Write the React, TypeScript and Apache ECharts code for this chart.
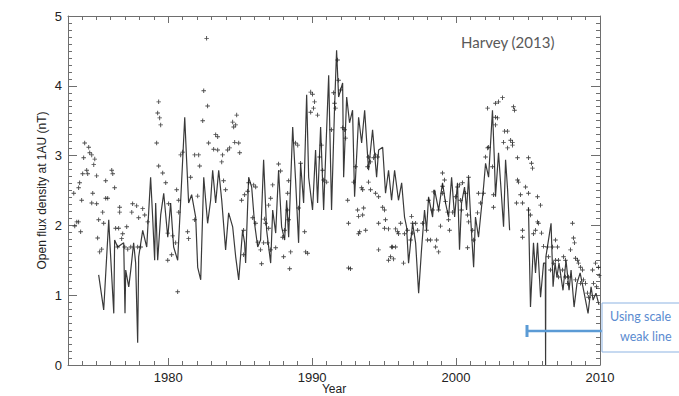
import React, { useEffect, useRef } from "react";
import * as echarts from "echarts";

const lineYears = [
  1975.17, 1975.52, 1975.87, 1975.94, 1976.22, 1976.28, 1976.49, 1976.91, 1977.0, 1977.05,
  1977.26, 1977.4, 1977.6, 1977.74, 1977.88, 1977.95, 1978.23, 1978.51, 1978.78, 1978.92,
  1979.06, 1979.13, 1979.27, 1979.48, 1979.69, 1979.97, 1980.17, 1980.38, 1980.66, 1980.87,
  1981.15, 1981.28, 1981.42, 1981.63, 1981.91, 1982.05, 1982.26, 1982.47, 1982.74, 1982.95,
  1983.09, 1983.3, 1983.51, 1983.72, 1983.99, 1984.2, 1984.48, 1984.69, 1984.9, 1985.17,
  1985.31, 1985.38, 1985.59, 1985.8, 1986.0, 1986.22, 1986.42, 1986.63, 1986.84, 1987.12,
  1987.26, 1987.47, 1987.67, 1987.88, 1988.09, 1988.23, 1988.37, 1988.65, 1988.85, 1989.06,
  1989.2, 1989.41, 1989.62, 1989.76, 1990.03, 1990.24, 1990.38, 1990.59, 1990.8, 1991.15,
  1991.35, 1991.56, 1991.7, 1991.84, 1992.12, 1992.19, 1992.4, 1992.6, 1992.81, 1992.95,
  1993.23, 1993.44, 1993.65, 1993.92, 1994.2, 1994.48, 1994.62, 1994.9, 1995.1, 1995.31,
  1995.52, 1995.73, 1996.0, 1996.22, 1996.42, 1996.56, 1996.7, 1996.98, 1997.19, 1997.4,
  1997.6, 1997.81, 1997.95, 1998.09, 1998.37, 1998.51, 1998.79, 1999.06, 1999.27, 1999.48,
  1999.69, 1999.9, 2000.1, 2000.24, 2000.38, 2000.59, 2000.73, 2000.87, 2001.01, 2001.22,
  2001.35, 2001.56, 2001.7, 2001.91, 2002.05, 2002.26, 2002.53, 2002.67, 2002.74, 2002.95,
  2003.16, 2003.3, 2003.44, 2003.58, 2003.72, 2004.3, 2005.03, 2005.17, 2005.38, 2005.52,
  2005.66, 2005.87, 2006.08, 2006.2, 2006.22, 2006.24, 2006.6, 2006.74, 2006.88, 2007.01,
  2007.15, 2007.43, 2007.64, 2007.85, 2007.99, 2008.2, 2008.4, 2008.62, 2008.9, 2009.17,
  2009.38, 2009.52, 2009.72, 2009.93,
];
const lineValues = [
  1.29, 0.79, 2.08, 1.79, 0.74, 1.79, 1.69, 1.75, 0.74, 1.36,
  1.12, 1.36, 1.75, 1.46, 0.32, 1.55, 1.93, 1.69, 2.69, 2.12,
  1.5, 2.32, 1.5, 2.15, 2.46, 1.83, 2.32, 1.69, 1.5, 2.36,
  3.55, 2.94, 2.32, 2.44, 2.12, 1.4, 1.22, 2.69, 2.03, 2.36,
  2.79, 2.32, 2.79, 2.36, 1.65, 2.18, 1.98, 1.55, 1.22, 1.93,
  1.75, 1.46, 2.69, 2.55, 2.03, 1.69, 1.79, 2.94, 1.93, 1.46,
  2.22, 1.89, 2.79, 1.98, 1.79, 2.36, 1.83, 3.41, 2.65, 1.75,
  2.89, 2.32, 3.87, 2.69, 2.22, 3.08, 2.32, 3.41, 2.22, 4.15,
  2.22, 3.7, 4.51, 3.84, 4.04, 2.69, 3.84, 3.47, 3.65, 2.41,
  3.55, 3.18, 3.65, 2.79, 3.37, 2.69, 3.08, 3.12, 2.46, 2.79,
  2.36, 2.79, 2.36, 2.61, 2.12, 1.98, 1.46, 2.03, 1.75, 1.03,
  1.65, 2.22, 1.93, 2.41, 2.12, 2.51, 2.22, 2.61, 2.32, 2.12,
  2.69, 2.12, 2.61, 1.65, 2.32, 2.55, 2.22, 2.69, 2.12, 1.4,
  2.12, 1.83, 2.12, 2.55, 2.89, 2.69, 3.65, 2.89, 2.41, 3.04,
  2.41, 1.98, 2.94, 2.51, 1.93, null, 2.26, 0.83, 1.75, 1.32,
  1.75, 0.97, 1.46, 1.46, 0, 1.55, 2.03, 1.12, 1.46, 1.26,
  1.46, 1.07, 1.5, 1.07, 1.36, 0.83, 1.17, 1.32, 1.03, 0.74,
  1.12, 0.93, 1.03, 0.86,
];

const scatterYears = [
  1974.2, 1974.48, 1974.55, 1974.69, 1974.13, 1974.9, 1974.83, 1974.34, 1974.06, 1974.41,
  1975.03, 1976.08, 1976.15, 1975.66, 1973.85, 1976.28, 1973.78, 1973.44, 1974.76, 1975.66,
  1975.8, 1973.99, 1974.69, 1975.03, 1975.45, 1976.63, 1976.63, 1977.53, 1977.81, 1977.47,
  1978.23, 1977.95, 1978.37, 1973.65, 1973.78, 1975.17, 1975.52, 1973.51, 1973.92, 1976.35,
  1976.56, 1977.12, 1978.58, 1975.1, 1976.84, 1976.77, 1976.98, 1976.49, 1977.19, 1977.4,
  1977.88, 1978.09, 1975.38, 1975.24,
  1979.34, 1979.27, 1979.41, 1979.48, 1979.2, 1979.34, 1979.62, 1979.83, 1980.59, 1980.73,
  1980.03, 1980.73, 1981.35, 1981.42, 1979.97, 1980.31, 1980.52, 1979.97, 1980.24, 1980.66,
  1982.67, 1982.47, 1982.74, 1982.4, 1983.3, 1983.44, 1982.81, 1983.16, 1983.44, 1983.78,
  1984.13, 1984.27, 1984.48, 1984.76, 1984.55, 1984.69, 1984.62, 1984.9, 1984.97, 1982.12,
  1981.84, 1980.87, 1981.01, 1982.19, 1981.56, 1983.72, 1983.85, 1983.99, 1982.05, 1981.84,
  1985.31, 1985.1, 1985.24, 1985.24,
  1985.59, 1985.94, 1986.08, 1985.52, 1985.87, 1986.08, 1986.22, 1986.42, 1986.63, 1986.91,
  1987.12, 1987.47, 1986.49, 1987.26, 1987.12, 1986.98, 1986.7, 1986.77, 1986.98, 1987.67,
  1987.81, 1988.37, 1988.3, 1988.3, 1988.37, 1988.09, 1987.95, 1988.02, 1988.51, 1988.44,
  1988.85, 1989.0, 1989.2, 1989.06, 1989.48, 1989.55, 1989.69, 1989.9, 1990.03, 1990.17,
  1990.1, 1990.38, 1989.9, 1990.66, 1990.52, 1990.73, 1990.8, 1991.01, 1991.35, 1991.49,
  1991.56, 1991.63,
  1991.77, 1991.84, 1991.98, 1992.12, 1992.26, 1992.33, 1992.47, 1992.53, 1992.53, 1992.67,
  1992.88, 1993.02, 1993.16, 1993.23, 1993.3, 1993.23, 1993.51, 1993.58, 1993.72, 1993.51,
  1993.44, 1993.92, 1994.06, 1993.85, 1994.27, 1994.41, 1994.55, 1994.06, 1994.41, 1994.62,
  1993.92, 1994.62, 1994.62, 1994.9, 1995.03, 1995.1, 1995.03, 1995.31, 1995.31, 1995.45,
  1995.59, 1995.8, 1995.94, 1996.0, 1996.15, 1995.8, 1995.52, 1995.66, 1996.35, 1996.42,
  1996.63, 1996.91, 1996.98, 1997.19, 1997.33, 1996.98, 1996.84, 1997.67, 1997.95,
  1998.02, 1998.23, 1998.65, 1998.58, 1998.79, 1998.92, 1999.06, 1999.2, 1999.06, 1999.06,
  1999.27, 1998.79, 1998.44, 1998.09, 1998.37, 1999.41, 1999.48, 1999.55, 1999.76, 1999.97,
  2000.1, 2000.24, 2000.31, 2000.38, 2000.45, 2000.66, 2000.87, 2000.8, 2000.87, 2000.8,
  2001.15, 2001.22, 2001.56, 2001.7, 2001.49, 2002.19, 2002.05, 2002.26, 2002.53, 2001.91,
  2002.6, 2002.6, 2002.74, 2002.88, 2002.19, 2002.74, 2002.95, 2003.23, 2002.74, 2003.37,
  2003.58, 2003.3, 2003.79, 2003.92, 2003.92, 2003.58, 2003.99, 2004.06, 2004.27, 2004.27,
  2004.2,
  2004.34, 2004.48, 2004.62, 2005.03, 2005.24, 2005.31, 2005.03, 2004.83, 2005.66, 2005.03,
  2005.17, 2005.87, 2005.66, 2005.73, 2005.52, 2005.38, 2004.62, 2004.62, 2005.94, 2006.08,
  2006.35, 2006.42, 2006.7, 2006.91, 2007.05, 2006.91, 2007.12, 2007.47, 2007.6, 2007.95,
  2008.09, 2008.16, 2008.23, 2008.3, 2008.44, 2008.51, 2008.65, 2008.78, 2008.85, 2008.99,
  2009.13, 2009.2, 2009.48, 2009.69, 2009.55, 2009.76, 2007.4, 2007.6, 2007.74, 2007.12,
  2006.77, 2006.56, 2007.81, 2008.65, 2008.3, 2009.9, 2009.95,
];
const scatterValues = [
  3.18, 3.12, 3.04, 3.01, 2.97, 2.95, 2.87, 2.79, 2.74, 2.74,
  2.71, 2.79, 2.74, 2.64, 2.61, 2.54, 2.54, 2.46, 2.46, 2.39,
  2.39, 2.36, 2.32, 2.31, 2.19, 2.26, 2.19, 2.31, 2.28, 2.19,
  2.24, 2.11, 2.15, 2.05, 2.05, 2.08, 2.03, 1.99, 1.91, 1.96,
  1.96, 1.98, 2.05, 1.82, 1.88, 1.81, 1.69, 1.69, 1.66, 1.69,
  1.69, 1.69, 1.66, 1.62,
  3.77, 3.61, 3.54, 3.44, 3.18, 2.85, 2.75, 2.61, 2.51, 2.36,
  2.31, 2.19, 1.91, 1.81, 1.89, 1.85, 1.75, 1.5, 1.58, 1.05,
  4.68, 3.93, 3.71, 3.5, 3.3, 3.27, 3.18, 3.09, 3.08, 3.01,
  3.08, 3.11, 3.48, 3.58, 3.41, 3.44, 3.19, 3.18, 3.04, 3.01,
  3.01, 3.01, 3.05, 2.85, 2.69, 2.91, 2.64, 2.51, 2.42, 2.08,
  2.44, 2.36, 1.93, 1.58,
  2.61, 2.58, 2.55, 2.49, 2.11, 2.03, 1.76, 1.65, 1.75, 1.75,
  1.65, 1.68, 1.45, 2.58, 2.39, 2.29, 2.09, 2.03, 1.96, 2.88,
  2.78, 2.64, 2.46, 2.22, 2.08, 1.93, 1.83, 1.55, 1.62, 1.38,
  3.18, 3.15, 2.89, 2.25, 1.91, 1.62, 1.6, 3.91, 3.88, 3.77,
  3.68, 3.58, 3.62, 3.15, 2.98, 2.79, 2.65, 2.62, 3.37, 3.9,
  3.75, 3.68,
  4.37, 4.08, 3.94, 3.4, 3.37, 3.25, 2.36, 2.03, 1.39, 1.38,
  2.62, 2.84, 2.22, 2.13, 1.91, 1.88, 2.15, 2.25, 1.93, 2.51,
  2.54, 2.98, 2.91, 2.84, 2.97, 3.01, 2.98, 2.51, 2.46, 2.41,
  2.62, 2.03, 1.65, 2.26, 2.22, 2.08, 1.96, 1.95, 1.5, 1.55,
  1.69, 1.95, 1.91, 1.88, 2.03, 1.69, 1.69, 1.52, 1.46, 1.88,
  1.93, 2.13, 2.03, 2.03, 1.93, 1.89, 1.79, 2.03, 1.93,
  1.79, 1.79, 1.79, 1.69, 1.62, 1.99, 2.75, 2.65, 2.56, 2.46,
  2.34, 2.22, 2.48, 2.36, 2.22, 2.19, 2.08, 1.93, 2.19, 2.41,
  2.55, 2.58, 2.36, 2.22, 2.61, 2.46, 2.69, 2.15, 2.05, 1.68,
  1.93, 1.79, 2.46, 2.32, 2.18, 3.11, 2.98, 3.12, 2.84, 2.46,
  2.44, 2.26, 3.55, 3.54, 3.68, 3.75, 3.77, 3.83, 3.44, 3.35,
  3.35, 3.19, 3.22, 3.19, 3.15, 3.11, 3.7, 3.65, 2.97, 2.65,
  2.32,
  2.62, 2.44, 2.32, 2.97, 2.89, 2.82, 2.46, 2.55, 2.41, 2.22,
  2.15, 2.29, 2.05, 2.03, 1.93, 1.88, 1.93, 1.83, 1.89, 1.7,
  1.69, 1.55, 1.69, 1.79, 1.69, 1.5, 1.5, 1.55, 1.5, 1.65,
  2.03, 1.82, 1.75, 1.53, 1.5, 1.46, 1.4, 1.36, 1.22, 1.17,
  1.03, 0.97, 1.36, 1.46, 1.17, 1.12, 1.36, 1.26, 1.17, 1.26,
  1.46, 1.36, 1.26, 1.17, 1.22, 1.4, 1.28,
];

const xMajorTicks = [1980, 1990, 2000, 2010];
const xMinorTicks = [
  1974, 1975, 1976, 1977, 1978, 1979, 1981, 1982, 1983, 1984, 1985, 1986, 1987, 1988, 1989,
  1991, 1992, 1993, 1994, 1995, 1996, 1997, 1998, 1999, 2001, 2002, 2003, 2004, 2005, 2006,
  2007, 2008, 2009,
];

const X_MIN = 1973.04;
const X_MAX = 2010;
const AXIS_COLOR = "#6e6e6e";
const LABEL_FONT = "Liberation Sans, Arial, sans-serif";
const NOTE_FONT = "Lato, 'Open Sans', sans-serif";

const plusPath =
  "path://M-0.2,-1L0.2,-1L0.2,-0.2L1,-0.2L1,0.2L0.2,0.2L0.2,1L-0.2,1L-0.2,0.2L-1,0.2L-1,-0.2L-0.2,-0.2Z";

function xAxisCfg(position: "top" | "bottom", ticks: number[], len: number, main: boolean) {
  return {
    type: "value",
    min: X_MIN,
    max: X_MAX,
    position,
    axisLine: { show: main, onZero: false, lineStyle: { color: AXIS_COLOR, width: 1 } },
    axisTick: { show: true, inside: true, length: len, customValues: ticks, lineStyle: { color: AXIS_COLOR, width: 1 } },
    axisLabel:
      main && position === "bottom"
        ? {
            show: true,
            customValues: xMajorTicks,
            formatter: (v: number) => String(Math.round(v)),
            color: "#222",
            fontSize: 13,
            fontFamily: LABEL_FONT,
            margin: 6,
          }
        : { show: false },
    splitLine: { show: false },
    ...(main && position === "bottom"
      ? {
          name: "Year",
          nameLocation: "middle",
          nameGap: 18,
          nameMoveOverlap: false,
          nameTextStyle: { color: "#222", fontSize: 12, lineHeight: 12, fontFamily: LABEL_FONT },
        }
      : {}),
  };
}

function yAxisCfg(position: "left" | "right") {
  const left = position === "left";
  return {
    type: "value",
    min: 0,
    max: 5,
    interval: 1,
    position,
    axisLine: { show: true, lineStyle: { color: AXIS_COLOR, width: 1 } },
    axisTick: { show: true, inside: true, length: 9, lineStyle: { color: AXIS_COLOR, width: 1 } },
    minorTick: { show: true, splitNumber: 10, length: 4, lineStyle: { color: AXIS_COLOR, width: 1 } },
    axisLabel: left
      ? { show: true, color: "#222", fontSize: 13, fontFamily: LABEL_FONT, margin: 6 }
      : { show: false },
    splitLine: { show: false },
    minorSplitLine: { show: false },
    ...(left
      ? {
          name: "Open flux density at 1AU (nT)",
          nameLocation: "middle",
          nameGap: 20,
          nameRotate: 90,
          nameMoveOverlap: false,
          nameTextStyle: { color: "#222", fontSize: 12, fontFamily: LABEL_FONT },
        }
      : {}),
  };
}

export default function App() {
  const ref = useRef<HTMLDivElement>(null);

  useEffect(() => {
    if (!ref.current) return;
    const chart = echarts.init(ref.current, null, { renderer: "svg" });

    const lineData = lineYears.map((yr, i) => (lineValues[i] === null ? "-" : [yr, lineValues[i]]));
    const scatterData = scatterYears.map((yr, i) => [yr, scatterValues[i]]);

    chart.setOption({
      animation: false,
      backgroundColor: "#ffffff",
      grid: { left: 68, right: 79, top: 16, bottom: 31, containLabel: false, outerBoundsMode: "none" },
      xAxis: [
        xAxisCfg("bottom", xMajorTicks, 7, true),
        xAxisCfg("bottom", xMinorTicks, 4, false),
        xAxisCfg("top", xMajorTicks, 7, true),
        xAxisCfg("top", xMinorTicks, 4, false),
      ],
      yAxis: [yAxisCfg("left"), yAxisCfg("right")],
      series: [
        {
          type: "line",
          xAxisIndex: 0,
          yAxisIndex: 0,
          data: lineData,
          showSymbol: false,
          connectNulls: false,
          lineStyle: { color: "#3a3a3a", width: 1.2 },
          z: 2,
        },
        {
          type: "scatter",
          xAxisIndex: 0,
          yAxisIndex: 0,
          data: scatterData,
          symbol: plusPath,
          symbolSize: 4.5,
          itemStyle: { color: "#1a1a1a" },
          z: 3,
        },
      ],
      graphic: [
        {
          type: "text",
          left: 461,
          top: 34,
          style: { text: "Harvey (2013)", fill: "#595959", fontSize: 15, fontFamily: NOTE_FONT },
        },
        {
          type: "line",
          shape: { x1: 527, y1: 331, x2: 602, y2: 331 },
          style: { stroke: "#5b9bd5", lineWidth: 2.5 },
          z: 10,
        },
        {
          type: "line",
          shape: { x1: 527, y1: 325, x2: 527, y2: 337 },
          style: { stroke: "#5b9bd5", lineWidth: 3 },
          z: 10,
        },
        {
          type: "rect",
          shape: { x: 602, y: 303, width: 110, height: 49 },
          style: { fill: "#ffffff", stroke: "#8db3e2", lineWidth: 1 },
          z: 10,
        },
        {
          type: "text",
          x: 610,
          y: 310,
          style: { text: "Using scale", fill: "#5b8bd0", fontSize: 12.5, fontFamily: NOTE_FONT },
          z: 11,
        },
        {
          type: "text",
          x: 620,
          y: 330,
          style: { text: "weak line", fill: "#5b8bd0", fontSize: 12.5, fontFamily: NOTE_FONT },
          z: 11,
        },
      ],
    });

    return () => chart.dispose();
  }, []);

  return (
    <div
      ref={ref}
      style={{ position: "fixed", left: 0, top: 0, width: 679, height: 396, background: "#fff" }}
    />
  );
}
